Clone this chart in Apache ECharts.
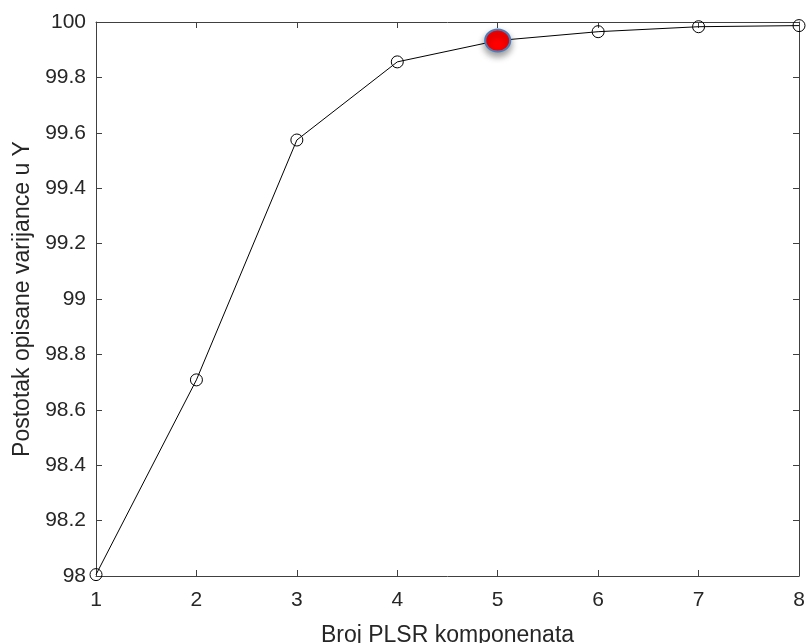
<!DOCTYPE html>
<html><head><meta charset="utf-8">
<script src="https://cdn.jsdelivr.net/npm/echarts@6/dist/echarts.min.js"></script>
<style>html,body{margin:0;padding:0;background:#fff}#c{width:806px;height:643px}</style>
</head><body><div id="c"></div>
<script>
const components = [1, 2, 3, 4, 5, 6, 7, 8];
const explained = [98.005, 98.708, 99.574, 99.856, 99.933, 99.965, 99.983, 99.987];
const highlightIndex = 4;
const xTicks = [1, 2, 3, 4, 5, 6, 7, 8];
const yTicks = [98, 98.2, 98.4, 98.6, 98.8, 99, 99.2, 99.4, 99.6, 99.8, 100];

const font = 'Liberation Sans, Arial, sans-serif';
const axisCol = '#404040';
const txtCol = '#262626';
const chart = echarts.init(document.getElementById('c'));
const lineData = components.map((c, i) => i === highlightIndex
  ? {value: [c, explained[i]], symbol: 'none'}
  : [c, explained[i]]);
const baseAx = {
  axisLine: {show: true, onZero: false, lineStyle: {color: axisCol, width: 1}},
  axisTick: {show: true, inside: true, length: 6, lineStyle: {color: axisCol}},
  splitLine: {show: false}
};
chart.setOption({
  animation: false,
  backgroundColor: '#fff',
  grid: {left: 96, right: 7, top: 22, bottom: 67, containLabel: false, outerBoundsMode: 'none'},
  xAxis: [
    Object.assign({}, baseAx, {
      type: 'value', min: 1, max: 8, interval: 1, position: 'bottom',
      name: 'Broj PLSR komponenata', nameLocation: 'middle', nameGap: 48,
      nameTextStyle: {fontFamily: font, fontSize: 23, color: txtCol},
      axisLabel: {fontFamily: font, fontSize: 21, color: txtCol, margin: 14,
        formatter: v => String(v)}
    }),
    Object.assign({}, baseAx, {
      type: 'value', min: 1, max: 8, interval: 1, position: 'top',
      axisLabel: {show: false}
    })
  ],
  yAxis: [
    Object.assign({}, baseAx, {
      type: 'value', min: 98, max: 100, interval: 0.2, position: 'left',
      name: 'Postotak opisane varijance u Y', nameLocation: 'middle', nameGap: 60,
      nameTextStyle: {fontFamily: font, fontSize: 23, color: txtCol},
      axisLabel: {fontFamily: font, fontSize: 21, color: txtCol, margin: 10,
        formatter: v => String(parseFloat(v.toFixed(1)))}
    }),
    Object.assign({}, baseAx, {
      type: 'value', min: 98, max: 100, interval: 0.2, position: 'right',
      axisLabel: {show: false}
    })
  ],
  series: [
    {
      type: 'line', data: lineData, xAxisIndex: 0, yAxisIndex: 0,
      symbol: 'circle', symbolSize: 12, showSymbol: true,
      lineStyle: {color: '#000', width: 1},
      itemStyle: {color: 'rgba(0,0,0,0)', borderColor: '#000', borderWidth: 1},
      clip: false, z: 2
    },
    {
      type: 'scatter', data: [[components[highlightIndex], explained[highlightIndex]]],
      xAxisIndex: 0, yAxisIndex: 0,
      symbol: 'circle', symbolSize: [25, 22],
      itemStyle: {color: '#ff0000', opacity: 1, borderColor: '#4a7ebb', borderWidth: 2,
        shadowBlur: 7, shadowColor: 'rgba(0,0,0,0.4)', shadowOffsetX: 0, shadowOffsetY: 4},
      clip: false, z: 5
    }
  ]
});
</script></body></html>
